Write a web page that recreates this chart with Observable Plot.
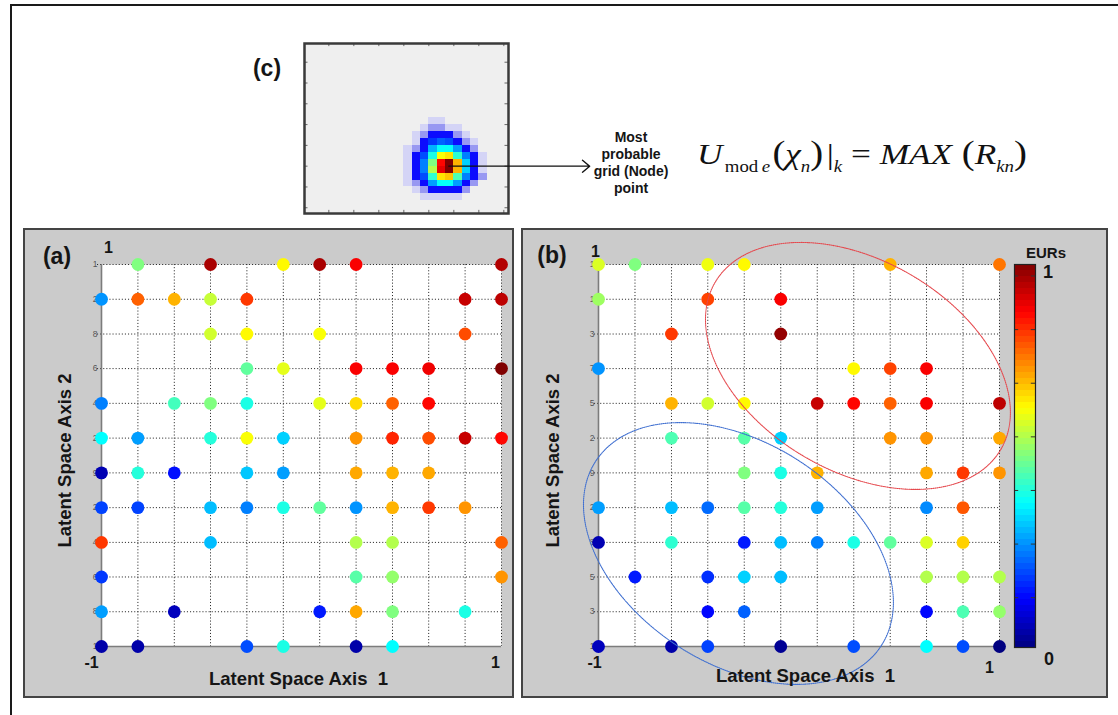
<!DOCTYPE html>
<html>
<head>
<meta charset="utf-8">
<script src="https://cdn.jsdelivr.net/npm/d3@7"></script>
<script src="https://cdn.jsdelivr.net/npm/@observablehq/plot@0.6"></script>
<style>
  html, body { margin: 0; padding: 0; background: #fff; }
  #fig { position: relative; width: 1118px; height: 715px; overflow: hidden; font-family: "Liberation Sans", Arial, sans-serif; }
  .outer { position: absolute; left: 10px; top: 4px; width: 1130px; height: 730px; border-left: 2px solid #1a1a1a; border-top: 2px solid #1a1a1a; }
  .panel { position: absolute; background: #cbcbcb; border: 2px solid #444; box-sizing: border-box; }
</style>
</head>
<body>
<div id="fig">
  <div class="outer"></div>
  <div class="panel" style="left:23px; top:228px; width:491px; height:470px;"></div>
  <div class="panel" style="left:521px; top:228px; width:587px; height:470px;"></div>
</div>
<script>
// SOM node positions along each latent axis (12 x 12 grid on [-1, 1])
const latentNodes = [-1, -0.818, -0.636, -0.455, -0.273, -0.091, 0.091, 0.273, 0.455, 0.636, 0.818, 1];
const _ = null;

// Normalised EUR of the wells mapped to each node; rows run from axis 2 = 1 (top) to -1 (bottom)
const eurNodesA = [
  [_, .50, _, .96, _, .63, .96, .88, _, _, _, .95],
  [.27, .78, .70, .57, .82, _, _, _, _, _, .93, .94],
  [_, _, _, .58, .63, _, .62, _, _, _, .80, _],
  [_, _, _, _, .47, .60, _, .88, .88, .89, _, 1.0],
  [.25, _, .44, .50, .40, _, .60, .66, .78, .87, _, _],
  [.375, .28, _, .41, .62, .33, _, .73, .84, .80, .93, .87],
  [.05, .41, .14, _, .32, .28, _, .71, .70, .71, _, _],
  [.19, .19, _, .31, .25, .40, .47, .27, .70, .82, .73, _],
  [.82, _, _, .31, _, _, _, .55, .55, _, _, .78],
  [.18, _, _, _, _, _, _, .46, .52, _, _, .73],
  [.28, _, .06, _, _, _, .15, .71, .50, _, .40, _],
  [.04, .04, _, _, .20, .40, _, .04, .375, _, _, _]
];
const eurNodesB = [
  [.59, .50, _, .61, .63, _, _, _, .70, _, _, .76],
  [.53, _, _, .81, _, .88, _, _, _, _, _, _],
  [_, _, .82, _, _, .98, _, _, _, _, _, _],
  [.27, _, _, _, _, _, _, .63, .81, .88, _, _],
  [_, _, .70, .58, .63, _, .93, .87, .78, .88, _, .94],
  [_, _, .45, _, .46, .33, _, _, .73, .73, _, .71],
  [_, _, _, _, .50, .40, .70, _, _, .71, .82, .73],
  [.28, _, .31, .23, .46, .41, .28, _, _, .26, .79, _],
  [.05, _, .42, _, .15, .31, .25, .40, .47, .59, .67, _],
  [_, .15, _, .17, .33, .31, _, _, _, .55, .55, .55],
  [_, _, _, .13, .22, _, _, _, _, .13, .45, .52],
  [.06, _, .04, .19, _, .02, _, .20, _, .375, .20, .0]
];

// Tick texts printed beside axis 2 (top to bottom)
const axisTicksA = ["1", "2", "8", "6", "4", "2", "9", "2", "4", "6", "8", "1"];
const axisTicksB = ["1", "1", "3", "7", "5", "2", "9", "2", "8", "5", "3", "1"];

// Colour-bar tick positions
const colorbarTicks = [0.13, 0.27, 0.41, 0.55, 0.69, 0.83, 0.97];

// Responsibility of one well over the latent grid (rows 11-22, columns 12-21 of the map)
const respRow0 = 11, respCol0 = 12;
const responsibility = [
  [_,   _,   _,   .02, .02, _,   _,   _,   _,   _  ],
  [_,   _,   .02, .06, .06, .02, .02, _,   _,   _  ],
  [_,   .02, .06, .12, .12, .12, .06, .02, _,   _  ],
  [_,   .02, .12, .18, .22, .20, .12, .06, .02, _  ],
  [.02, .06, .12, .30, .38, .38, .28, .12, .06, _  ],
  [.02, .12, .20, .40, .62, .65, .42, .25, .12, .02],
  [.02, .12, .25, .50, .87, 1.0, .70, .33, .12, .02],
  [.02, .12, .25, .55, .90, 1.0, .70, .33, .12, .02],
  [.02, .12, .20, .42, .65, .68, .45, .25, .12, .06],
  [.02, .06, .12, .28, .38, .38, .28, .12, .06, _  ],
  [_,   .02, .06, .12, .12, .12, .12, .06, _,   _  ],
  [_,   _,   .02, .02, .02, .02, .02, _,   _,   _  ]
];
const gridTicks = [3, 6, 9, 12, 15, 18, 21, 24];

// MATLAB-style jet colour map
const jetScale = {
  type: "linear",
  domain: [0, 0.125, 0.375, 0.625, 0.875, 1],
  range: ["#000080", "#0000ff", "#00ffff", "#ffff00", "#ff0000", "#800000"],
  interpolate: "rgb"
};

const FONT = "Liberation Sans, Arial, sans-serif";
const fig = document.getElementById("fig");

function place(el, left, top) {
  el.style.position = "absolute";
  el.style.left = left + "px";
  el.style.top = top + "px";
  el.style.background = "transparent";
  el.style.overflow = "visible";
  el.style.maxWidth = "none";
  el.style.fontFamily = FONT;
  fig.appendChild(el);
  return el;
}

function toNodes(matrix) {
  const out = [];
  matrix.forEach((row, r) => row.forEach((v, c) => {
    if (v != null) out.push({x: latentNodes[c], y: latentNodes[latentNodes.length - 1 - r], eur: v});
  }));
  return out;
}

// Dotted ellipse outline in data space; a, b are semi-axes in pixels, tilt in degrees (clockwise)
function outline(e, sx, sy) {
  const th = e.tilt * Math.PI / 180;
  return d3.range(0, 361, 2).map(deg => {
    const t = deg * Math.PI / 180;
    const dx = e.a * Math.cos(t) * Math.cos(th) - e.b * Math.sin(t) * Math.sin(th);
    const dy = e.a * Math.cos(t) * Math.sin(th) + e.b * Math.sin(t) * Math.cos(th);
    return {x: e.cx + dx / sx, y: e.cy - dy / sy};
  });
}

function latentPanel(matrix, tickTexts, o) {
  const data = toNodes(matrix);
  const ticks = latentNodes.map((y, i) => ({y, t: tickTexts[latentNodes.length - 1 - i]}));
  const grid = {stroke: "#2e2e2e", strokeWidth: 1, strokeDasharray: "1.1,2"};
  const bold = {fontWeight: "bold", fill: "#151515"};
  const sx = (o.width - o.ml - o.mr) / 2, sy = (469 - 36 - 51) / 2;
  return Plot.plot({
    width: o.width, height: 469,
    marginLeft: o.ml, marginRight: o.mr, marginTop: 36, marginBottom: 51,
    x: {domain: [-1, 1], axis: null},
    y: {domain: [-1, 1], axis: null},
    color: jetScale,
    marks: [
      Plot.frame({fill: "white", stroke: "none"}),
      Plot.ruleX(latentNodes, grid),
      Plot.ruleY(latentNodes, {...grid, x1: -1.02, x2: 1}),
      Plot.ruleX([-1], {stroke: "#7c7c7c", strokeWidth: 1.6}),
      Plot.ruleY([-1], {stroke: "#7c7c7c", strokeWidth: 1.6}),
      Plot.text(ticks, {x: -1, y: "y", text: "t", dx: -4, textAnchor: "end", fontSize: 8.5, fill: "#555"}),
      Plot.dot(data, {x: "x", y: "y", fill: "eur", r: 6.4}),
      ...(o.outlines || []).map(e => Plot.line(outline(e, sx, sy), {x: "x", y: "y", stroke: e.color, strokeWidth: 1.1, strokeDasharray: "1,1"})),
      Plot.text(["-1"], {x: -1, y: -1, text: d => d, dx: o.lowDx, dy: 16.5, fontSize: 16, ...bold}),
      Plot.text(["1"], {x: 1, y: -1, text: d => d, dx: o.highDx, dy: o.highDy, fontSize: 16, ...bold}),
      Plot.text(["1"], {x: -1, y: 1, text: d => d, dx: o.topDx, dy: o.topDy, fontSize: 16, ...bold}),
      Plot.text(["Latent Space Axis\u00a0\u00a01"], {x: 0, y: -1, text: d => d, dx: o.titleDx, dy: o.titleDy, fontSize: 18.5, ...bold}),
      Plot.text(["Latent Space Axis 2"], {x: -1, y: 0, text: d => d, rotate: -90, dx: o.yTitleDx, dy: 5, fontSize: 18.5, ...bold})
    ]
  });
}

// (a) all wells
place(latentPanel(eurNodesA, axisTicksA, {
  width: 491, ml: 78, mr: 13,
  lowDx: -10, highDx: -6, highDy: 16.5, topDx: 7, topDy: -17,
  titleDx: -3, titleDy: 33, yTitleDx: -36
}), 23, 228);

// (b) wells with cluster outlines
const clusterOutlines = [
  {cx: 0.294, cy: 0.469, a: 165.5, b: 105.4, tilt: 30.3, color: "#e5484d"},
  {cx: -0.302, cy: -0.513, a: 170, b: 110.7, tilt: 32.8, color: "#3f6fd0"}
];
place(latentPanel(eurNodesB, axisTicksB, {
  width: 587, ml: 77, mr: 109,
  lowDx: -4, highDx: -10, highDy: 21.5, topDx: -3, topDy: -13,
  titleDx: 6.5, titleDy: 30, yTitleDx: -45,
  outlines: clusterOutlines
}), 521, 228);

// EUR colour bar (64-step jet)
place(Plot.plot({
  width: 70, height: 440,
  marginLeft: 14, marginRight: 35, marginTop: 24, marginBottom: 33,
  x: {domain: [0, 1], axis: null},
  y: {domain: [0, 1], axis: null},
  color: jetScale,
  marks: [
    Plot.rect(d3.range(64), {x1: 0, x2: 1, y1: i => i / 64, y2: i => (i + 1) / 64, fill: i => (i + 0.5) / 64, shapeRendering: "crispEdges"}),
    Plot.ruleY(colorbarTicks, {x1: 0, x2: 0.2, stroke: "#333"}),
    Plot.ruleY(colorbarTicks, {x1: 0.8, x2: 1, stroke: "#333"}),
    Plot.frame({stroke: "#222", strokeWidth: 1.2})
  ]
}), 1000, 240);

// (c) responsibility map of a single well
const respCells = [];
responsibility.forEach((row, r) => row.forEach((v, c) => {
  if (v != null) respCells.push({col: respCol0 + c, row: respRow0 + r, v});
}));
place(Plot.plot({
  width: 204, height: 170,
  marginLeft: 0, marginRight: 0, marginTop: 0, marginBottom: 0,
  x: {domain: [0.08, 24.56], axis: null},
  y: {domain: [0.3, 24.83], axis: null, reverse: true},
  color: {type: "linear", domain: [0.02, 0.06, 0.125, 0.375, 0.625, 0.875, 1],
          range: ["#d4d4f6", "#9898f2", "#0000ff", "#00ffff", "#ffff00", "#ff0000", "#800000"], interpolate: "rgb"},
  marks: [
    Plot.frame({fill: "#efefef", stroke: "none"}),
    Plot.rect(respCells, {x1: "col", x2: d => d.col + 1, y1: "row", y2: d => d.row + 1, fill: "v", shapeRendering: "crispEdges"}),
    Plot.ruleX(gridTicks, {y1: 0.3, y2: 0.75, stroke: "#666"}),
    Plot.ruleX(gridTicks, {y1: 24.38, y2: 24.83, stroke: "#666"}),
    Plot.ruleY(gridTicks, {x1: 0.08, x2: 0.5, stroke: "#666"}),
    Plot.ruleY(gridTicks, {x1: 24.14, x2: 24.56, stroke: "#666"}),
    Plot.frame({stroke: "#3a3a3a", strokeWidth: 2.5}),
    Plot.arrow([{x1: 17.4, y1: 18.0, x2: 34.3, y2: 18.0}], {x1: "x1", y1: "y1", x2: "x2", y2: "y2", stroke: "#111", strokeWidth: 1.4, headAngle: 80, headLength: 10})
  ]
}), 304, 43);

// Text annotations: panel letters, node caption, colour-bar labels and the mode equation
const ov = d3.create("svg").attr("width", 1118).attr("height", 715)
  .style("position", "absolute").style("left", 0).style("top", 0).style("pointer-events", "none")
  .attr("font-family", FONT).attr("fill", "#151515");
fig.appendChild(ov.node());

const labelBold = (x, y, s, size, anchor = "middle") => ov.append("text").attr("x", x).attr("y", y)
  .attr("font-size", size).attr("font-weight", "bold").attr("text-anchor", anchor).text(s);
labelBold(57, 264, "(a)", 23);
labelBold(552, 263, "(b)", 23);
labelBold(267, 76, "(c)", 23);
labelBold(1046, 258, "EURs", 15);
labelBold(1048, 278, "1", 18);
labelBold(1049, 665, "0", 18);
["Most", "probable", "grid (Node)", "point"].forEach((s, i) => labelBold(631, 142 + i * 17, s, 14));

const eq = ov.append("text").attr("font-family", "Liberation Serif, Times New Roman, serif")
  .attr("font-size", 30).attr("fill", "#111");
eq.html(
  '<tspan font-style="italic">U</tspan>' +
  '<tspan font-size="16" dy="8" dx="2">mod</tspan><tspan font-size="16" font-style="italic" dx="3">e</tspan>' +
  '<tspan dy="-8" font-size="33" dx="2">(</tspan><tspan font-style="italic">\u03c7</tspan>' +
  '<tspan font-size="16" font-style="italic" dy="8">n</tspan>' +
  '<tspan dy="-8" font-size="33">)</tspan><tspan dx="3">|</tspan>' +
  '<tspan font-size="16" font-style="italic" dy="8">k</tspan>' +
  '<tspan dy="-8"> = </tspan><tspan font-style="italic">MAX</tspan><tspan font-size="33"> (</tspan>' +
  '<tspan font-style="italic">R</tspan><tspan font-size="16" font-style="italic" dy="8">kn</tspan>' +
  '<tspan dy="-8" font-size="33">)</tspan>'
);
const eqWidth = eq.node().getBBox().width;
eq.attr("transform", `translate(697,164) scale(${330 / eqWidth},1)`);
</script>
</body>
</html>
